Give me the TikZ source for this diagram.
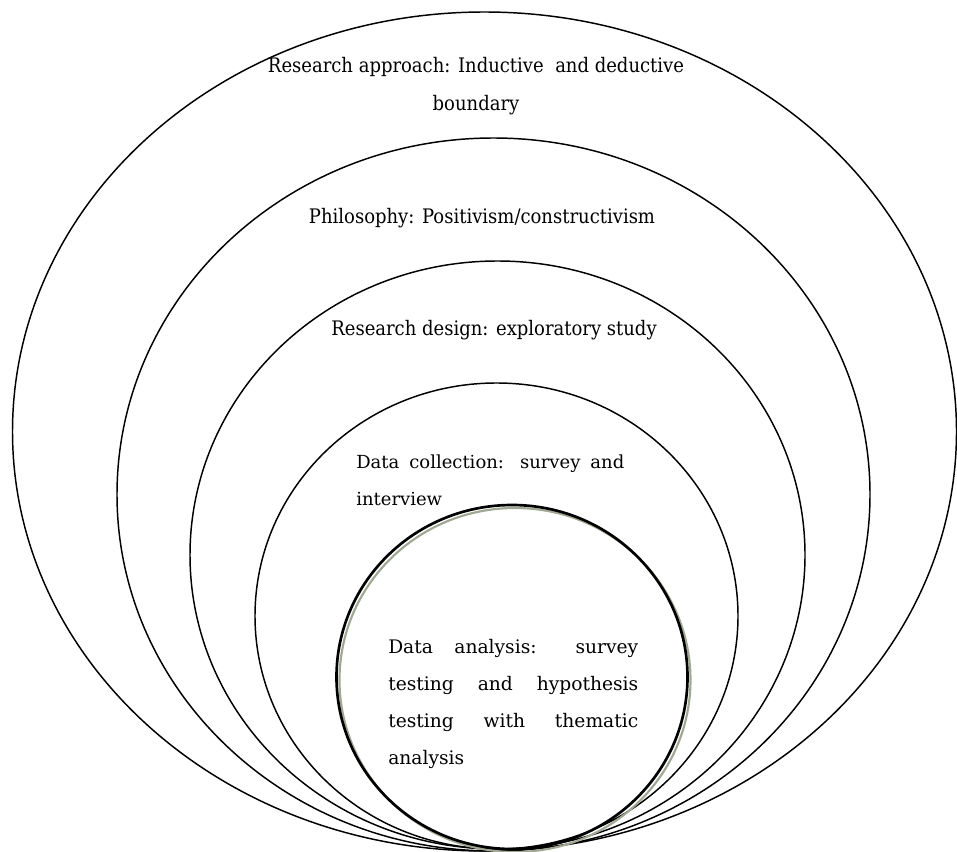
\documentclass[tikz,border=0pt]{standalone}
\usepackage{fontspec}
\setmainfont{DejaVu Serif}
\newfontfamily\narrowfont{DejaVu Serif}[FakeStretch=0.9]
\usepackage{xcolor}
\usepackage{tikz}
\usetikzlibrary{positioning}

\definecolor{shadowgreen}{RGB}{160,167,146}
\hyphenpenalty=10000

\begin{document}
\begin{tikzpicture}[x=0.75pt, y=-0.75pt,
  ring/.style={line width=1.1pt},
  toplabel/.style={rectangle, inner sep=0pt, align=center, font=\narrowfont\fontsize{15}{28.5}\selectfont},
  parlabel/.style={rectangle, inner sep=0pt, align=justify, anchor=north west, font=\fontsize{14}{27.75}\selectfont}]
	\useasboundingbox (0,0) rectangle (957,852);

	% Rings
	\draw[ring] (484.5,431.5) ellipse [x radius=472, y radius=419.5];
	\draw[ring] (493.5,494.5) ellipse [x radius=376.5, y radius=356.5];
	\draw[ring] (497.5,555) ellipse [x radius=307.5, y radius=294];
	\draw[ring] (496.5,616) ellipse [x radius=241.5, y radius=233];
	\draw[line width=1.6pt, shadowgreen] (515,680) ellipse [x radius=175.5, y radius=172];
	\draw[line width=2pt] (512,677) ellipse [x radius=175.5, y radius=172];

	% Labels
	\node[toplabel, anchor=north] (approach) at (476,57) {Research approach: Inductive\ \ and deductive\\boundary};
	\node[toplabel, anchor=base] (philosophy) at (482,224) {Philosophy: Positivism/constructivism};
	\node[toplabel, anchor=base] (design) at (494,336) {Research design: exploratory study};
	\node[parlabel, text width=201pt, font=\fontsize{13.5}{27.75}\selectfont] (collection) at (356,455) {Data collection: survey and\linebreak interview};
	\node[parlabel, text width=187.5pt] (analysis) at (388,639) {Data analysis: survey\linebreak testing and hypothesis\linebreak testing with thematic\linebreak analysis};
\end{tikzpicture}
\end{document}
